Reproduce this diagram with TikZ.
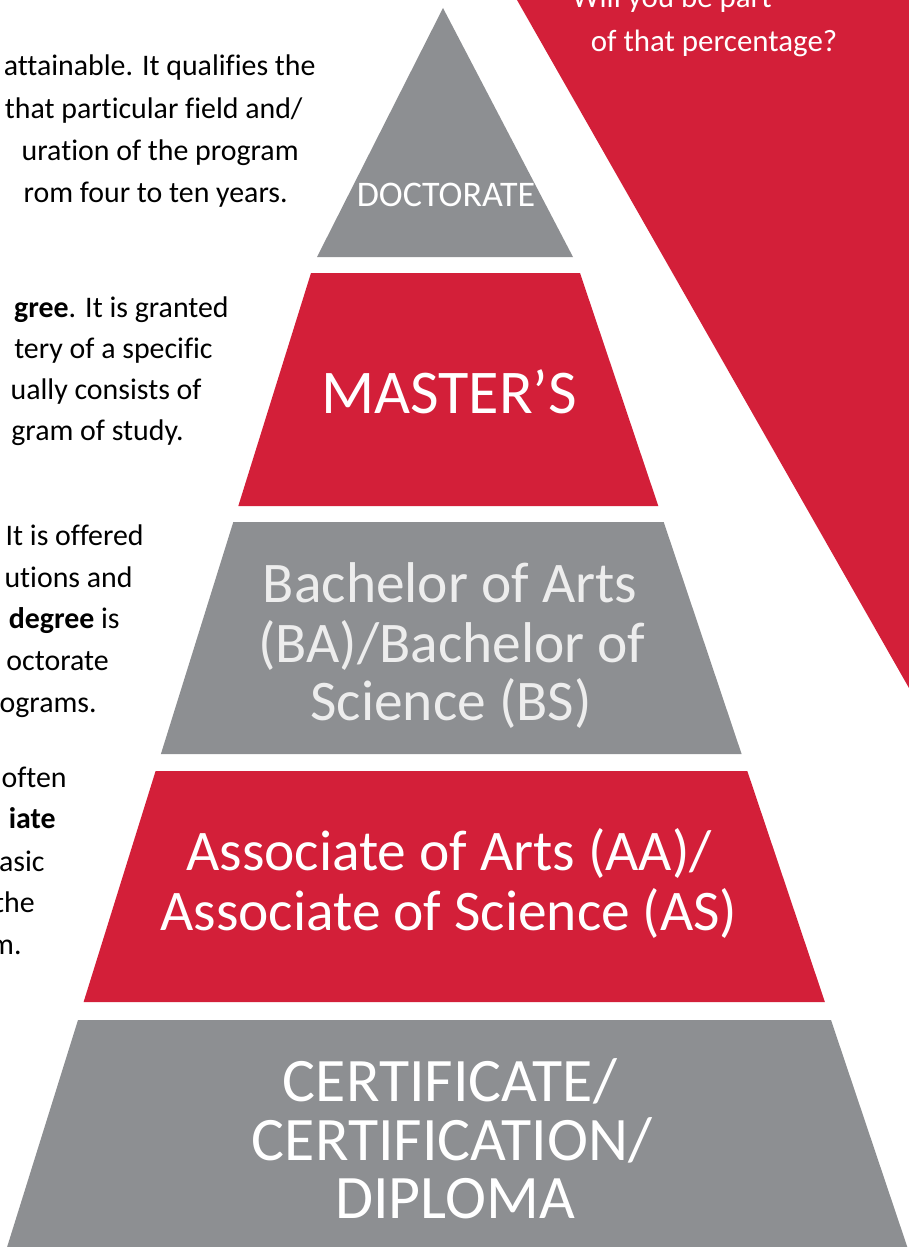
\documentclass[tikz,border=0pt]{standalone}
\usepackage{fontspec}
\setmainfont{Carlito}
\newfontfamily\sidefont[Ligatures=CommonOff]{Carlito}
\usepackage{tikz}

\definecolor{degreered}{HTML}{D31F39}
\definecolor{degreegray}{HTML}{8D8F92}
\definecolor{softwhite}{HTML}{EDEDED}

\tikzset{
  body/.style={anchor=base east, inner sep=0pt, text=black, font=\sidefont\fontsize{17}{20}\selectfont},
  tierlabel/.style={anchor=base, inner sep=0pt, text=white},
  bigtier/.style={tierlabel, font=\fontsize{32.7}{34}\selectfont},
}

\begin{document}
\begin{tikzpicture}[x=0.02cm, y=-0.02cm]

    \useasboundingbox (0,0) rectangle (909,1247);
    \clip (0,0) rectangle (909,1247);

    % percentage wedge
    \fill[degreered] (517,0) -- (909,0) -- (909,688) -- cycle;
    \node[tierlabel, font=\sidefont\fontsize{17.6}{20}\selectfont] (will) at (672,8) {Will you be part};
    \node[tierlabel, font=\sidefont\fontsize{17.6}{20}\selectfont] (part) at (714,52) {of that percentage?};

    % pyramid
    \fill[degreegray] (443,8) -- (573,257) -- (317,257) -- cycle;
    \fill[degreered] (311,273) -- (580,273) -- (658.3,506) -- (238.3,506) -- cycle;
    \fill[degreegray] (233.3,522) -- (663.7,522) -- (741.6,754) -- (160.9,754) -- cycle;
    \fill[degreered] (155.6,771) -- (747.3,771) -- (824.9,1002) -- (83.6,1002) -- cycle;
    \fill[degreegray] (78,1020) -- (831,1020) -- (907.3,1247) -- (7.1,1247) -- cycle;

    \node[tierlabel, font=\fontsize{20.5}{22}\selectfont] (doc) at (446,206) {DOCTORATE};
    \node[tierlabel, font=\fontsize{35.4}{36}\selectfont] (mas) at (449,413) {MASTER’S};

    \node[bigtier, text=softwhite] (bac1) at (450,602) {Bachelor of Arts};
    \node[bigtier, text=softwhite] (bac2) at (452,662) {(BA)/Bachelor of};
    \node[bigtier, text=softwhite] (bac3) at (451,720) {Science (BS)};

    \node[bigtier] (aso1) at (449,870) {Associate of Arts (AA)/};
    \node[bigtier] (aso2) at (449,930) {Associate of Science (AS)};

    \node[tierlabel, font=\fontsize{35.2}{36}\selectfont] (cer1) at (450,1101) {CERTIFICATE/};
    \node[tierlabel, font=\fontsize{35.2}{36}\selectfont] (cer2) at (452,1160) {CERTIFICATION/};
    \node[tierlabel, font=\fontsize{35.2}{36}\selectfont] (cer3) at (455,1218) {DIPLOMA};

    % side text, cut at the left edge
    \node[body] (t11) at (316,76) {attainable. It qualifies the};
    \node[body] (t12) at (303,118) {that particular field and/};
    \node[body] (t13) at (299,160) {uration of the program};
    \node[body] (t14) at (288,202) {rom four to ten years.};

    \node[body] (t21) at (229,317) {\textbf{gree}. It is granted};
    \node[body] (t22) at (213,358) {tery of a specific};
    \node[body] (t23) at (202,399) {ually consists of};
    \node[body] (t24) at (184,440) {gram of study.};

    \node[body] (t31) at (144,545) {It is offered};
    \node[body] (t32) at (133,587) {utions and};
    \node[body] (t33) at (120,628) {\textbf{degree} is};
    \node[body] (t34) at (109,670) {octorate};
    \node[body] (t35) at (97,712) {ograms.};

    \node[body] (t41) at (67,787) {often};
    \node[body] (t42) at (56,828) {\textbf{iate}};
    \node[body] (t43) at (45,871) {asic};
    \node[body] (t44) at (35,912) {the};
    \node[body] (t45) at (22,954) {m.};
\end{tikzpicture}
\end{document}
